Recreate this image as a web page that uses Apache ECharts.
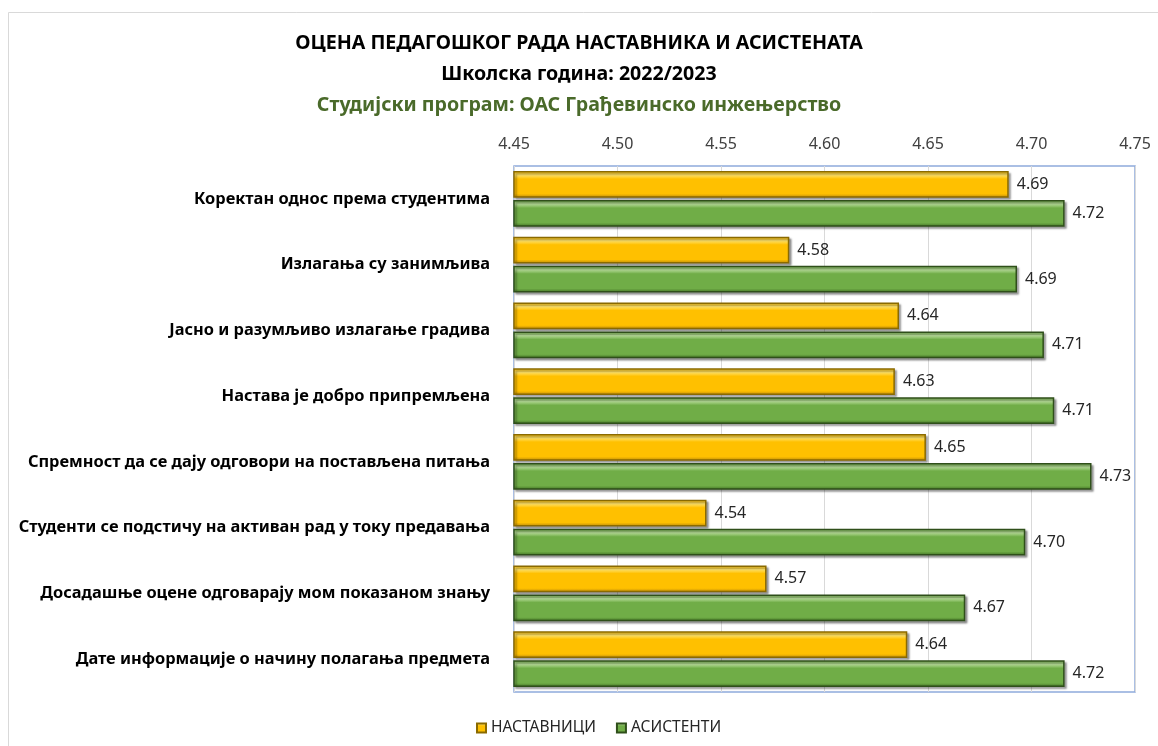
<!DOCTYPE html>
<html>
<head>
<meta charset="utf-8">
<script src="https://cdn.jsdelivr.net/npm/echarts@6/dist/echarts.min.js"></script>
<style>
  html, body { margin: 0; padding: 0; background: #fff; }
  #chart { width: 1158px; height: 746px; }
</style>
</head>
<body>
<div id="chart"></div>
<script>
var categories = [
  'Коректан однос према студентима',
  'Излагања су занимљива',
  'Јасно и разумљиво излагање градива',
  'Настава је добро припремљена',
  'Спремност да се дају одговори на постављена питања',
  'Студенти се подстичу на активан рад у току предавања',
  'Досадашње оцене одговарају мом показаном знању',
  'Дате информације о начину полагања предмета'
];
var teachers = [4.689, 4.583, 4.636, 4.634, 4.649, 4.543, 4.572, 4.640];
var assistants = [4.716, 4.693, 4.706, 4.711, 4.729, 4.697, 4.668, 4.716];
var seriesNames = ['НАСТАВНИЦИ', 'АСИСТЕНТИ'];
var titles = [
  'ОЦЕНА ПЕДАГОШКОГ РАДА НАСТАВНИКА И АСИСТЕНАТА',
  'Школска година: 2022/2023',
  'Студијски програм: ОАС Грађевинско инжењерство'
];

var font = 'Noto Sans';
var chart = echarts.init(document.getElementById('chart'), null, { renderer: 'canvas' });

function barGradient(light, mid, dark) {
  return new echarts.graphic.LinearGradient(0, 0, 0, 1, [
    { offset: 0, color: mid },
    { offset: 0.15, color: light },
    { offset: 0.3, color: mid },
    { offset: 0.85, color: mid },
    { offset: 1, color: dark }
  ]);
}

function makeSeries(name, data, fill, border) {
  return {
    type: 'bar', name: name, data: data,
    barGap: '8%', barCategoryGap: '15%',
    itemStyle: {
      color: fill, borderColor: border, borderWidth: 1.5,
      shadowColor: 'rgba(0,0,0,0.35)', shadowBlur: 2, shadowOffsetX: 2, shadowOffsetY: 2
    },
    label: {
      show: true, position: 'right', distance: 8,
      color: '#262626', fontFamily: font, fontSize: 16,
      formatter: function(p) { return p.value.toFixed(2); }
    }
  };
}

chart.setOption({
  animation: false,
  backgroundColor: '#fff',
  textStyle: { fontFamily: font },
  title: [
    { text: titles[0], left: 'center', top: 28, textStyle: { fontSize: 19.6, fontWeight: 'bold', color: '#000', fontFamily: font } },
    { text: titles[1], left: 'center', top: 59, textStyle: { fontSize: 19.6, fontWeight: 'bold', color: '#000', fontFamily: font } },
    { text: titles[2], left: 'center', top: 90, textStyle: { fontSize: 19.6, fontWeight: 'bold', color: '#4a6a2a', fontFamily: font } }
  ],
  graphic: [{
    type: 'rect', shape: { x: 8.5, y: 12.5, width: 1200, height: 800 },
    style: { fill: 'none', stroke: '#d9d9d9', lineWidth: 1 }, silent: true
  }],
  legend: {
    data: seriesNames, bottom: 5, left: 471, icon: 'rect',
    itemWidth: 9, itemHeight: 9, itemGap: 20,
    textStyle: { fontSize: 15.5, color: '#262626', fontFamily: font }
  },
  grid: {
    left: 514, right: 23, top: 166, bottom: 54,
    show: true, borderColor: '#8faadc', borderWidth: 1.5
  },
  xAxis: {
    type: 'value', position: 'top', min: 4.45, max: 4.75, interval: 0.05,
    axisLine: { show: false }, axisTick: { show: false },
    axisLabel: { color: '#404040', fontSize: 16, fontFamily: font, margin: 14,
      formatter: function(v) { return v.toFixed(2); } },
    splitLine: { lineStyle: { color: '#d9d9d9', width: 1 } }
  },
  yAxis: {
    type: 'category', data: categories, inverse: true,
    axisLine: { show: false }, axisTick: { show: false },
    axisLabel: { color: '#000', fontSize: 16.4, fontWeight: 'bold', fontFamily: font, margin: 24 }
  },
  series: [
    makeSeries(seriesNames[0], teachers, barGradient('#ffe36b', '#ffc000', '#b8860b'), '#8a6a00'),
    makeSeries(seriesNames[1], assistants, barGradient('#b6dc98', '#70ad47', '#3f6f22'), '#2f4f1a')
  ]
});
</script>
</body>
</html>
